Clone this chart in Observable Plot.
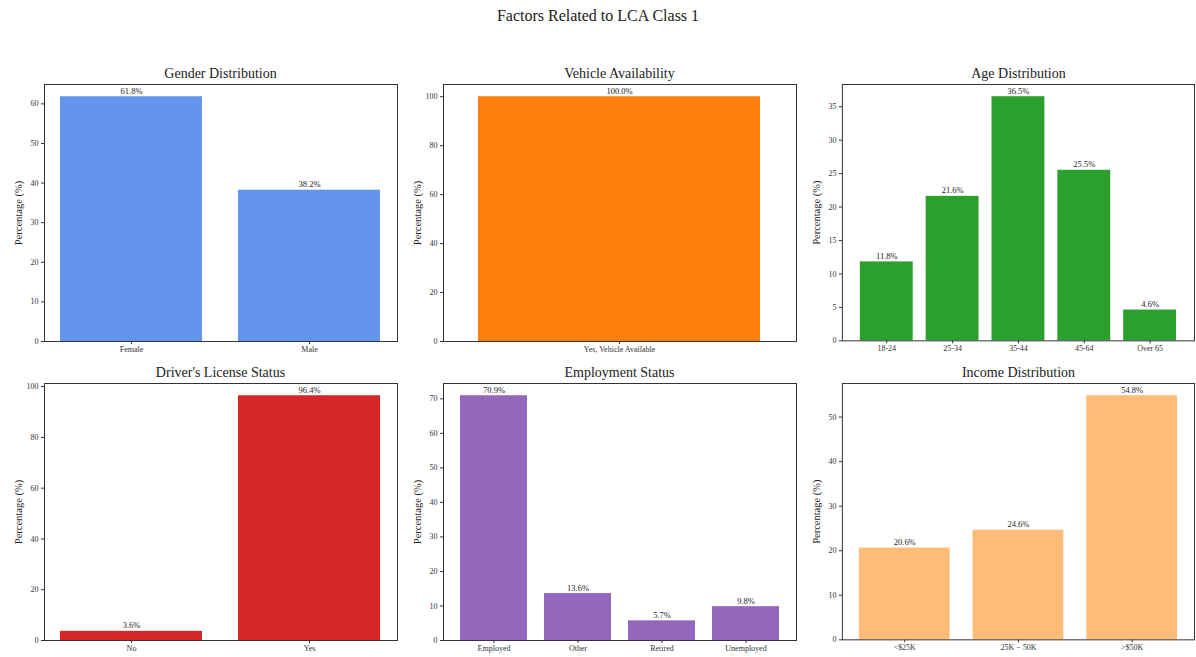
<!DOCTYPE html>
<html>
<head>
<meta charset="utf-8">
<script src="https://cdn.jsdelivr.net/npm/d3@7"></script>
<script src="https://cdn.jsdelivr.net/npm/@observablehq/plot@0.6"></script>
<style>
  html, body { margin: 0; padding: 0; background: #fff; }
  #page { position: relative; width: 1196px; height: 657px; background: #fff; font-family: "Liberation Serif", "DejaVu Serif", serif; color: #222; overflow: hidden; }
  .main-title { position: absolute; left: 0; width: 1196px; top: 7px; text-align: center; font-size: 16px; }
  .panel-title { position: absolute; text-align: center; font-size: 14px; line-height: 16px; }
  .panel { position: absolute; }
</style>
</head>
<body>
<div id="page">
  <div class="main-title">Factors Related to LCA Class 1</div>
</div>
<script>
// ---- Data ----
const mainTitle = "Factors Related to LCA Class 1";

const genderCategories = ["Female", "Male"];
const genderValues = [61.8, 38.2];
const genderTicks = [0, 10, 20, 30, 40, 50, 60];

const vehicleCategories = ["Yes, Vehicle Available"];
const vehicleValues = [100.0];
const vehicleTicks = [0, 20, 40, 60, 80, 100];

const ageCategories = ["18-24", "25-34", "35-44", "45-64", "Over 65"];
const ageValues = [11.8, 21.6, 36.5, 25.5, 4.6];
const ageTicks = [0, 5, 10, 15, 20, 25, 30, 35];

const licenseCategories = ["No", "Yes"];
const licenseValues = [3.6, 96.4];
const licenseTicks = [0, 20, 40, 60, 80, 100];

const employmentCategories = ["Employed", "Other", "Retired", "Unemployed"];
const employmentValues = [70.9, 13.6, 5.7, 9.8];
const employmentTicks = [0, 10, 20, 30, 40, 50, 60, 70];

const incomeCategories = ["<$25K", "25K \u2212 50K", ">$50K"];
const incomeValues = [20.6, 24.6, 54.8];
const incomeTicks = [0, 10, 20, 30, 40, 50];

const panels = [
  {title: "Gender Distribution", cats: genderCategories, vals: genderValues, ticks: genderTicks, color: "#6495ed", col: 0, row: 0},
  {title: "Vehicle Availability", cats: vehicleCategories, vals: vehicleValues, ticks: vehicleTicks, color: "#ff7f0e", col: 1, row: 0},
  {title: "Age Distribution", cats: ageCategories, vals: ageValues, ticks: ageTicks, color: "#2ca02c", col: 2, row: 0},
  {title: "Driver's License Status", cats: licenseCategories, vals: licenseValues, ticks: licenseTicks, color: "#d62728", col: 0, row: 1},
  {title: "Employment Status", cats: employmentCategories, vals: employmentValues, ticks: employmentTicks, color: "#9467bd", col: 1, row: 1},
  {title: "Income Distribution", cats: incomeCategories, vals: incomeValues, ticks: incomeTicks, color: "#ffbb78", col: 2, row: 1}
];

// ---- Layout ----
const colLefts = [44, 443, 842];
const rowTops = [84, 383];
const frameW = 353, frameH = 257;
const mL = 44, mR = 2, mT = 4, mB = 22;

const page = document.getElementById("page");

for (const p of panels) {
  const data = p.cats.map((c, i) => ({cat: c, val: p.vals[i]}));
  const n = p.cats.length;
  const ymax = d3.max(p.vals) * 1.05;
  const chart = Plot.plot({
    width: frameW + mL + mR,
    height: frameH + mT + mB,
    marginLeft: mL, marginRight: mR, marginTop: mT, marginBottom: mB,
    style: {fontFamily: "'Liberation Serif', serif", fontSize: "8px", background: "transparent", color: "#333", overflow: "visible"},
    x: {domain: p.cats, paddingInner: 0.2, paddingOuter: 0.05 * (n - 0.2), label: null, tickSize: 3, tickPadding: 2},
    y: {domain: [0, ymax], ticks: p.ticks, label: null, tickSize: 3, tickPadding: 3},
    marks: [
      Plot.barY(data, {x: "cat", y: "val", fill: p.color}),
      Plot.text(data, {x: "cat", y: "val", text: d => d.val.toFixed(1) + "%", dy: -3, lineAnchor: "bottom", fontSize: 8.5, fill: "#222"}),
      Plot.text(["Percentage (%)"], {frameAnchor: "left", text: d => d, rotate: -90, dx: -26, fontSize: 10.5, fill: "#222", textAnchor: "middle", lineAnchor: "middle"}),
      Plot.frame({stroke: "#333", strokeWidth: 1})
    ]
  });
  const holder = document.createElement("div");
  holder.className = "panel";
  holder.style.left = (colLefts[p.col] - mL) + "px";
  holder.style.top = (rowTops[p.row] - mT) + "px";
  holder.appendChild(chart);
  page.appendChild(holder);

  const t = document.createElement("div");
  t.className = "panel-title";
  t.textContent = p.title;
  t.style.left = colLefts[p.col] + "px";
  t.style.width = frameW + "px";
  t.style.top = (rowTops[p.row] - 18) + "px";
  page.appendChild(t);
}
</script>
</body>
</html>
